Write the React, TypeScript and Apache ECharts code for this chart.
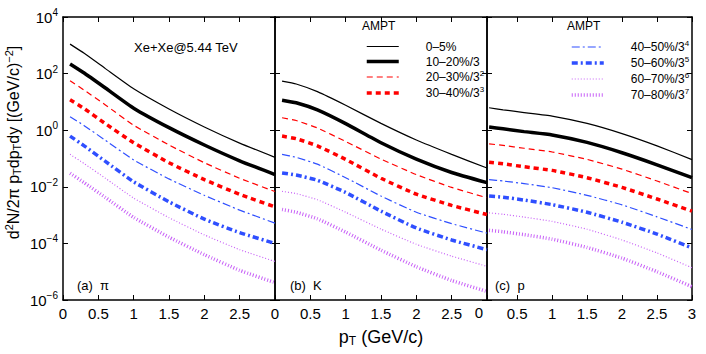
import React, { useEffect, useRef } from "react";
import * as echarts from "echarts";

// transverse momentum points (GeV/c)
const PT = [0.1, 0.3, 0.6, 1.0, 1.5, 2.0, 2.5, 3.0];
const CENTRALITIES = ["0–5%", "10–20%/3", "20–30%/3^2", "30–40%/3^3", "40–50%/3^4", "50–60%/3^5", "60–70%/3^6", "70–80%/3^7"];

const PION = [
  [1.1e3, 5.2e2, 1.5e2, 29, 5.6, 1.3, 0.35, 0.11],
  [2.2e2, 1.05e2, 31, 6.0, 1.23, 0.3, 0.083, 0.027],
  [56, 26, 7.8, 1.5, 0.3, 0.071, 0.02, 6.8e-3],
  [12, 5.8, 1.7, 0.36, 0.071, 0.018, 5.4e-3, 1.95e-3],
  [3.0, 1.45, 0.44, 0.089, 0.019, 5.0e-3, 1.5e-3, 5.2e-4],
  [0.62, 0.28, 0.079, 0.015, 2.95e-3, 7.2e-4, 2.4e-4, 1.0e-4],
  [0.14, 0.066, 0.02, 4.0e-3, 8.1e-4, 2.0e-4, 6.0e-5, 2.3e-5],
  [0.03, 0.014, 4.2e-3, 8.3e-4, 1.66e-4, 4.0e-5, 1.12e-5, 4.1e-6],
];
const KAON = [
  [54, 43, 23, 7.6, 1.74, 0.45, 0.14, 0.046],
  [11.5, 9.3, 5.2, 1.7, 0.36, 0.095, 0.032, 0.014],
  [2.75, 2.2, 1.2, 0.4, 0.095, 0.027, 9.5e-3, 4.1e-3],
  [0.62, 0.5, 0.28, 0.093, 0.02, 5.5e-3, 2.2e-3, 1.05e-3],
  [0.14, 0.11, 0.063, 0.021, 4.7e-3, 1.26e-3, 5.0e-4, 2.3e-4],
  [0.031, 0.026, 0.017, 6.3e-3, 1.38e-3, 3.5e-4, 1.32e-4, 6.0e-5],
  [6.9e-3, 5.75e-3, 3.5e-3, 1.26e-3, 3.2e-4, 9.3e-5, 3.55e-5, 1.55e-5],
  [1.58e-3, 1.26e-3, 7.4e-4, 2.5e-4, 5.75e-5, 1.5e-5, 4.9e-6, 2.0e-6],
];
const PROTON = [
  [6.2, 5.25, 4.2, 3.16, 1.74, 0.76, 0.28, 0.091],
  [1.29, 1.12, 0.89, 0.68, 0.37, 0.16, 0.06, 0.021],
  [0.33, 0.29, 0.23, 0.17, 0.093, 0.042, 0.016, 5.75e-3],
  [0.074, 0.065, 0.051, 0.038, 0.021, 9.5e-3, 3.7e-3, 1.38e-3],
  [0.018, 0.016, 0.013, 9.3e-3, 5.0e-3, 2.3e-3, 8.7e-4, 3.1e-4],
  [4.7e-3, 4.3e-3, 3.4e-3, 2.34e-3, 1.26e-3, 5.6e-4, 2.14e-4, 6.9e-5],
  [1.2e-3, 1.07e-3, 8.5e-4, 6.0e-4, 3.16e-4, 1.32e-4, 4.6e-5, 1.38e-5],
  [2.9e-4, 2.57e-4, 2.04e-4, 1.41e-4, 7.2e-5, 3.0e-5, 1.0e-5, 2.95e-6],
];

const X_TICKS = [0, 0.5, 1, 1.5, 2, 2.5, 3];
const X_LABELS_AB = [0, 0.5, 1, 1.5, 2, 2.5];
const X_LABELS_C = [0.5, 1, 1.5, 2, 2.5, 3];
const Y_TICKS = [1e-6, 1e-4, 1e-2, 1, 1e2, 1e4];

const FONT = "'Liberation Sans', Arial, Helvetica, sans-serif";
const BLUE = "#2f4fff";
const VIOLET = "#c862f7";
const STYLES: any[] = [
  { color: "#000", width: 1.2, type: "solid" },
  { color: "#000", width: 3.5, type: "solid" },
  { color: "#ff0000", width: 1.2, type: [6, 4] },
  { color: "#ff0000", width: 3.5, type: [5, 4] },
  { color: BLUE, width: 1.2, type: [8, 3, 2, 3] },
  { color: BLUE, width: 3.5, type: [6, 3, 2, 3] },
  { color: VIOLET, width: 1.2, type: [1, 2] },
  { color: VIOLET, width: 3.5, type: [1, 2] },
];

const TOP = 17;
const HEIGHT = 283;
const PANELS = [
  { left: 63, width: 212, xMin: 0, labels: X_LABELS_AB, data: PION },
  { left: 275, width: 212, xMin: 0, labels: X_LABELS_AB, data: KAON },
  { left: 487, width: 205, xMin: 0.07, labels: X_LABELS_C, data: PROTON },
];

const supRich = { sup: { fontSize: 10, padding: [0, 0, 9, 0], fontFamily: FONT, color: "#000" } };
const axisLine = { show: true, onZero: false, lineStyle: { color: "#000", width: 1.5 } };

function buildOption() {
  const xAxis: any[] = [];
  const yAxis: any[] = [];
  PANELS.forEach((p, i) => {
    const ticks = X_TICKS.filter((v) => v >= p.xMin);
    xAxis.push({
      type: "value", gridIndex: i, min: p.xMin, max: 3, position: "bottom",
      axisLine, splitLine: { show: false },
      axisTick: { show: true, inside: true, length: 5, customValues: ticks, lineStyle: { color: "#000" } },
      axisLabel: { customValues: p.labels, color: "#000", fontSize: 15, fontFamily: FONT, margin: 6, formatter: (v: number) => String(v) },
      ...(i === 1
        ? {
            name: "p{sub|T} (GeV/c)", nameLocation: "middle", nameGap: 26,
            nameTextStyle: {
              fontSize: 18, fontFamily: FONT, color: "#000",
              rich: { sub: { fontSize: 12, padding: [9, 0, 0, 0], fontFamily: FONT, color: "#000" } },
            },
          }
        : {}),
    });
    xAxis.push({
      type: "value", gridIndex: i, min: p.xMin, max: 3, position: "top",
      axisLine, splitLine: { show: false },
      axisTick: { show: true, inside: true, length: 5, customValues: ticks, lineStyle: { color: "#000" } },
      axisLabel: { show: false },
    });
    yAxis.push({
      type: "log", logBase: 10, gridIndex: i, min: 1e-6, max: 1e4, position: "left",
      axisLine, splitLine: { show: false },
      axisTick: { show: true, inside: true, length: 5, customValues: Y_TICKS, lineStyle: { color: "#000" } },
      axisLabel: {
        show: i === 0, customValues: Y_TICKS, color: "#000", fontSize: 15, fontFamily: FONT, margin: 5,
        formatter: (v: number) => {
          const e = Math.round(Math.log10(v));
          return "10{sup|" + (e < 0 ? "−" + -e : String(e)) + "}";
        },
        rich: supRich,
      },
      ...(i === 0
        ? {
            name: "d{sup|2}N/2π p{sub|T}dp{sub|T}dy [(GeV/c){sup|−2}]", nameLocation: "middle", nameGap: 40,
            nameTextStyle: {
              fontSize: 16, fontFamily: FONT, color: "#000", padding: [0, 0, 0, 32],
              rich: {
                sup: { fontSize: 11, padding: [0, 0, 9, 0], fontFamily: FONT, color: "#000" },
                sub: { fontSize: 11, padding: [8, 0, 0, 0], fontFamily: FONT, color: "#000" },
              },
            },
          }
        : {}),
    });
    yAxis.push({
      type: "log", logBase: 10, gridIndex: i, min: 1e-6, max: 1e4, position: "right",
      axisLine, splitLine: { show: false },
      axisTick: { show: true, inside: true, length: 5, customValues: Y_TICKS, lineStyle: { color: "#000" } },
      axisLabel: { show: false, customValues: Y_TICKS },
    });
  });

  const series: any[] = [];
  PANELS.forEach((p, pi) => {
    p.data.forEach((vals, ci) => {
      const s = STYLES[ci];
      series.push({
        type: "line", name: CENTRALITIES[ci], xAxisIndex: pi * 2, yAxisIndex: pi * 2,
        data: PT.map((x, k) => [x, vals[k]]),
        symbol: "none", showSymbol: false, smooth: 0.15, silent: true,
        itemStyle: { color: s.color },
        lineStyle: { color: s.color, width: s.width, type: s.type, cap: "butt" },
      });
    });
  });

  const legendCommon = {
    orient: "vertical", itemWidth: 32, itemHeight: 10, itemGap: 0, selectedMode: false,
    lineStyle: { width: "inherit" },
    itemStyle: { opacity: 0 },
    formatter: (n: string) => n.replace(/\^(\d)/, "{sup|$1}"),
    textStyle: {
      fontSize: 12, lineHeight: 15, fontFamily: FONT, color: "#000", padding: [0, 0, 0, 22],
      rich: { sup: { fontSize: 8, lineHeight: 7, padding: [0, 0, 8, 0], fontFamily: FONT, color: "#000" } },
    },
  };

  const txt = (text: string, x: number, y: number, size = 13) => ({
    type: "text", x, y, silent: true,
    style: { text, fontSize: size, fontFamily: FONT, fill: "#000", textVerticalAlign: "middle", verticalAlign: "middle" },
  });

  return {
    animation: false,
    backgroundColor: "#fff",
    grid: PANELS.map((p) => ({ left: p.left, top: TOP, width: p.width, height: HEIGHT, show: false, outerBoundsMode: "none", containLabel: false })),
    xAxis, yAxis, series,
    legend: [
      { ...legendCommon, data: CENTRALITIES.slice(0, 4), left: 360, top: 34 },
      { ...legendCommon, data: CENTRALITIES.slice(4), left: 565, top: 34 },
    ],
    graphic: [
      txt("Xe+Xe@5.44 TeV", 134, 47),
      txt("(a)  π", 77, 285),
      txt("(b)  K", 290, 285),
      txt("(c)  p", 495, 285),
      txt("AMPT", 362, 26, 12),
      txt("AMPT", 567, 26, 12),
      { type: "text", x: 479, y: 312, silent: true, style: { text: "0", fontSize: 15, fontFamily: FONT, fill: "#000", align: "center", textAlign: "center", verticalAlign: "middle", textVerticalAlign: "middle" } },
    ],
  };
}

export default function App() {
  const ref = useRef<HTMLDivElement>(null);
  useEffect(() => {
    const chart = echarts.init(ref.current!, null, { renderer: "svg" });
    chart.setOption(buildOption() as any);
    return () => chart.dispose();
  }, []);
  return <div ref={ref} style={{ position: "fixed", left: 0, top: 0, width: 706, height: 354, background: "#fff" }} />;
}
